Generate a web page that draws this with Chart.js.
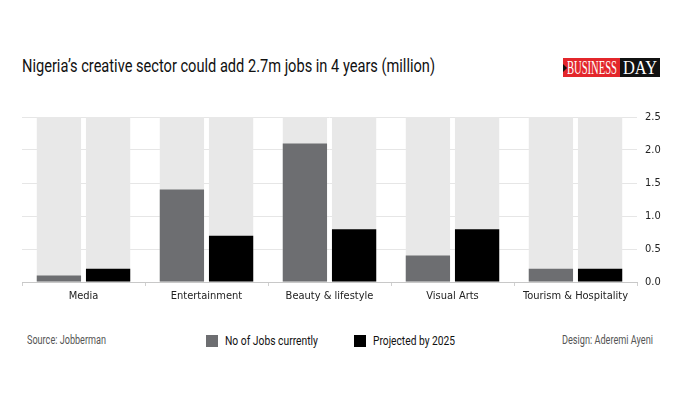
<!DOCTYPE html>
<html>
<head>
<meta charset="utf-8">
<script src="https://cdn.jsdelivr.net/npm/chart.js@4.4.0/dist/chart.umd.min.js"></script>
<style>
  html, body { margin: 0; padding: 0; background: #fff; }
  body { width: 700px; height: 400px; position: relative; overflow: hidden; font-family: Roboto, sans-serif; }
  .fit { position: absolute; white-space: nowrap; transform-origin: 0 0; }
  #title { left: 22px; top: 56px; font-size: 17.5px; color: #111; }
  #logo { position: absolute; left: 563px; top: 58px; height: 19px; width: 97px; }
  #logo .red { position: absolute; left: 0; top: 0; width: 57px; height: 19px; background: #e3262b; overflow: hidden; }
  #logo .blk { position: absolute; left: 57px; top: 0; width: 40px; height: 19px; background: #111; overflow: hidden; }
  #logo .tri { position: absolute; left: 0; top: 6px; width: 0; height: 0; border-left: 4px solid #111; border-top: 4px solid transparent; border-bottom: 4px solid transparent; }
  #logo .t { position: absolute; top: 0; font-family: "Liberation Serif", serif; font-size: 18px; line-height: 20px; color: #fff; white-space: nowrap; transform-origin: 0 0; }
  #wrap { position: absolute; left: 0; top: 100px; width: 700px; height: 220px; }
  .foot { top: 333px; font-size: 12px; color: #555; }
  .leg { top: 333px; font-size: 12.5px; color: #111; }
  .sw { position: absolute; top: 335px; width: 12px; height: 12px; }
</style>
</head>
<body>
<div id="title" class="fit" data-w="413">Nigeria’s creative sector could add 2.7m jobs in 4 years (million)</div>
<div id="logo">
  <div class="red"><span class="t" id="lb" style="left:4px;">BUSINESS</span><div class="tri"></div></div>
  <div class="blk"><span class="t" id="ld" style="left:3px;">DAY</span></div>
</div>
<div id="wrap"><canvas id="c"></canvas></div>
<div class="fit foot" style="left:27px;" data-w="79">Source: Jobberman</div>
<div id="legend"></div>
<div class="fit foot" style="left:562px;" data-w="91">Design: Aderemi Ayeni</div>
<script>
const categories = ["Media", "Entertainment", "Beauty & lifestyle", "Visual Arts", "Tourism & Hospitality"];
const seriesNames = ["No of Jobs currently", "Projected by 2025"];
const jobsCurrently = [0.1, 1.4, 2.1, 0.4, 0.2];
const projected2025 = [0.2, 0.7, 0.8, 0.8, 0.2];
const yTicks = [0, 0.5, 1.0, 1.5, 2.0, 2.5];
const axisMax = 2.5;
const colors = ["#6d6e71", "#000000"];

// legend (HTML)
const legendPos = [{ sw: 206, tx: 225, w: 93 }, { sw: 354, tx: 373, w: 82 }];
seriesNames.forEach((n, i) => {
  const sw = document.createElement('div'); sw.className = 'sw';
  sw.style.left = legendPos[i].sw + 'px'; sw.style.background = colors[i];
  document.body.appendChild(sw);
  const tx = document.createElement('div'); tx.className = 'fit leg';
  tx.style.left = legendPos[i].tx + 'px'; tx.dataset.w = legendPos[i].w; tx.textContent = n;
  document.body.appendChild(tx);
});
document.querySelectorAll('.fit').forEach(el => {
  const w = el.getBoundingClientRect().width;
  el.style.transform = 'scaleX(' + (parseFloat(el.dataset.w) / w) + ')';
});
[['lb', 50], ['ld', 34]].forEach(([id, tw]) => {
  const el = document.getElementById(id);
  el.style.transform = 'scaleX(' + (tw / el.getBoundingClientRect().width) + ')';
});

const fontFam = '"DejaVu Sans Condensed", Roboto, sans-serif';
const bgPlugin = {
  id: 'barBackdrop',
  beforeDatasetsDraw(chart) {
    const ctx = chart.ctx;
    const yTop = chart.scales.y.getPixelForValue(axisMax);
    const yBot = chart.scales.y.getPixelForValue(0);
    ctx.save();
    ctx.fillStyle = '#e8e8e8';
    chart.data.datasets.forEach((d, i) => {
      chart.getDatasetMeta(i).data.forEach(el => {
        const p = el.getProps(['x', 'width'], true);
        ctx.fillRect(p.x - p.width / 2, yTop, p.width, yBot - yTop);
      });
    });
    ctx.restore();
  }
};

new Chart(document.getElementById('c'), {
  type: 'bar',
  data: {
    labels: categories,
    datasets: [
      { label: seriesNames[0], data: jobsCurrently, backgroundColor: colors[0] },
      { label: seriesNames[1], data: projected2025, backgroundColor: colors[1] }
    ]
  },
  plugins: [bgPlugin],
  options: {
    responsive: true,
    maintainAspectRatio: false,
    animation: false,
    categoryPercentage: 0.8,
    barPercentage: 0.9,
    layout: { padding: { top: 17, left: 22, right: 0, bottom: 0 } },
    plugins: { legend: { display: false }, tooltip: { enabled: false } },
    scales: {
      x: {
        grid: { drawOnChartArea: false, drawTicks: true, tickLength: 4, color: '#d0d0d0', offset: true },
        border: { display: true, color: '#c8c8c8', width: 1 },
        ticks: { color: '#222', font: { family: fontFam, size: 11 }, padding: 4, maxRotation: 0, autoSkip: false },
        afterFit: s => { s.height = 38; }
      },
      y: {
        position: 'right',
        min: 0, max: axisMax,
        afterBuildTicks: s => { s.ticks = yTicks.map(v => ({ value: v })); },
        grid: { color: '#e6e6e6', drawTicks: false },
        border: { display: false },
        ticks: { color: '#222', font: { family: fontFam, size: 11 }, padding: 8, callback: v => v.toFixed(1) },
        afterFit: s => { s.width = 63; }
      }
    }
  }
});
</script>
</body>
</html>
